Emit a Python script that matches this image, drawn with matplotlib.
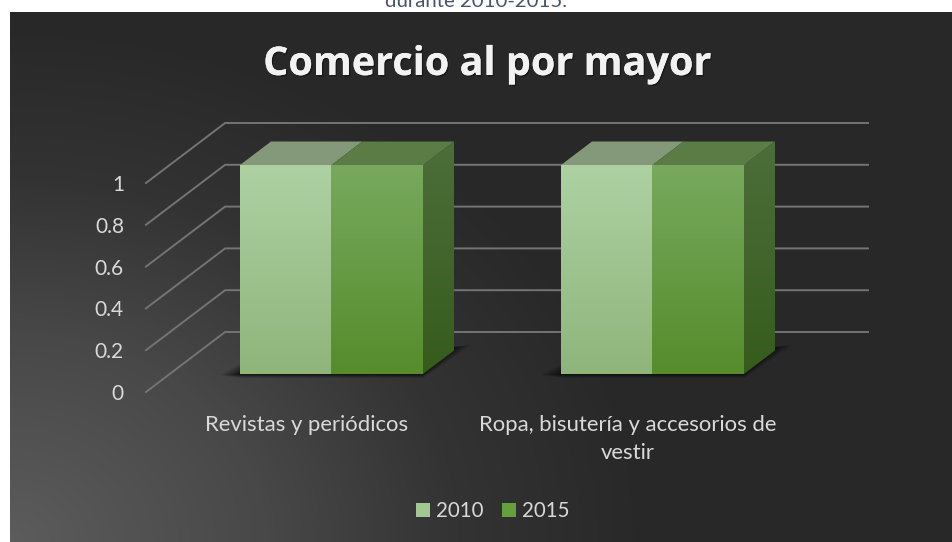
#!/usr/bin/env python
import numpy as np
from matplotlib import pyplot as plt
from matplotlib.colors import LinearSegmentedColormap
from matplotlib.patches import Patch, Polygon
from matplotlib import patheffects

title = 'Comercio al por mayor'
cut_title = 'durante 2010-2015.'
categories = ['Revistas y periódicos', 'Ropa, bisutería y accesorios de\nvestir']
series = ['2010', '2015']
values_2010 = [1, 1]
values_2015 = [1, 1]
ticks = [0, 0.2, 0.4, 0.6, 0.8, 1]
tick_labels = ['0', '0.2', '0.4', '0.6', '0.8', '1']

W, H = 953, 542
PX_X, PX_Y = 321.0, 209.0       # pixels per category / per unit of value
X0, Y0 = 331.5, 374.0           # pixel of category 0, value 0 on the bar front
BAR_W = 91.5 / PX_X
DX, DY = 31.0 / PX_X, 23.5 / PX_Y   # one bar depth
WALL_FRONT, WALL_BACK = -18 / 23.5, 42 / 23.5
WALL_X = -161.8 / PX_X

plt.rcParams['font.family'] = ['Lato', 'DejaVu Sans']
fig = plt.figure(figsize=(W / 100, H / 100), dpi=100, facecolor='white')

# panel background, in pixels
bg = fig.add_axes([0, 0, 1, 1])
bg.axis('off')
xx, yy = np.meshgrid(np.arange(10, W), np.arange(12, H))
r = np.clip(np.hypot((xx - 10) / 640.0, (yy - 542) / 520.0), 0, 1)
bg_cmap = LinearSegmentedColormap.from_list(
    'bg', [(0, '#5c5c5c'), (0.4, '#484848'), (0.7, '#333333'), (1, '#282828')])
bg.imshow(r, extent=(10, W, H, 12), cmap=bg_cmap, vmin=0, vmax=1, aspect='auto')
bg.set_xlim(0, W)
bg.set_ylim(H, 0)

ax = fig.add_axes([0, 0, 1, 1])
ax.patch.set_alpha(0)
ax.axis('off')
xlim = (-X0 / PX_X, (W - X0) / PX_X)
ylim = ((Y0 - H) / PX_Y, Y0 / PX_Y)


def project(c, d, v):
    return c + d * DX, v + d * DY


def grad_poly(points, top, bottom, z):
    points = np.array(points)
    cmap = LinearSegmentedColormap.from_list('g', [top, bottom])
    ext = (points[:, 0].min(), points[:, 0].max(), points[:, 1].min(), points[:, 1].max())
    im = ax.imshow(np.linspace(1, 0, 128)[:, None], extent=ext, origin='lower', cmap=cmap,
                   vmin=0, vmax=1, aspect='auto', zorder=z, interpolation='bilinear')
    clip = Polygon(points, closed=True, transform=ax.transData, fc='none', ec='none')
    ax.add_patch(clip)
    im.set_clip_path(clip)


# walls and gridlines
for v in ticks:
    x1, y1 = project(WALL_X, WALL_FRONT, v)
    x2, y2 = project(WALL_X, WALL_BACK, v)
    x3 = (868 - X0) / PX_X
    ax.plot([x1, x2, x3], [y1, y2, y2], color='#747474', lw=1.4, zorder=1, solid_joinstyle='miter')

colors = {
    '2010': dict(front=('#aed1a2', '#8fb57b'), top='#83997a'),
    '2015': dict(front=('#78a95e', '#568c2c'), top='#5b7c44', side=('#4c6e3a', '#365c1c')),
}

for i in range(len(categories)):
    left = i - BAR_W
    right = i + BAR_W
    # soft shadow on the floor, several layers
    for g, a in zip([1.0, 0.8, 0.6, 0.4, 0.2], [0.12, 0.18, 0.22, 0.3, 0.4]):
        shadow = [(left, 10 * g / PX_Y), (left - 20 * g / PX_X, -1 / PX_Y), (left, -4 * g / PX_Y),
                  (right, -4 * g / PX_Y), (right + (31 + 18 * g) / PX_X, (27 + 2 * g) / PX_Y),
                  (right + 31 / PX_X, 27 / PX_Y), (right, 10 / PX_Y)]
        ax.add_patch(Polygon(shadow, fc='#0a0a0a', ec='none', alpha=a, zorder=2))

    for j, (name, vals) in enumerate(zip(series, [values_2010, values_2015])):
        a = left + j * BAR_W
        b = a + BAR_W
        v = vals[i]
        c = colors[name]
        grad_poly([(a, 0), (b, 0), (b, v), (a, v)], c['front'][0], c['front'][1], 4)
        ax.add_patch(Polygon([project(a, 0, v), project(b, 0, v), project(b, 1, v), project(a, 1, v)],
                             fc=c['top'], ec='none', zorder=4))
        if 'side' in c:
            grad_poly([project(b, 0, 0), project(b, 1, 0), project(b, 1, v), project(b, 0, v)],
                      c['side'][0], c['side'][1], 3.5)

ax.set_xlim(xlim)
ax.set_ylim(ylim)

for v, lab in zip(ticks, tick_labels):
    ax.text(-207.5 / PX_X, v - 20 / PX_Y, lab, color='#d9d9d9', fontsize=15, ha='right', va='center')

for i, lab in enumerate(categories):
    ax.text(i - 24.5 / PX_X, -41 / PX_Y, lab, color='#d9d9d9', fontsize=15.9,
            ha='center', va='top', linespacing=1.5)

bg.text(487.5, 75, title, color='#f2f2f2', fontsize=28.5, fontweight='bold',
        family=['Open Sans', 'DejaVu Sans'], ha='center', va='baseline',
        path_effects=[patheffects.withSimplePatchShadow(offset=(1, -1), shadow_rgbFace='black', alpha=0.4),
                      patheffects.Normal()])
bg.text(476, 7, cut_title, color='#44546a', fontsize=14.7, ha='center', va='baseline')

handles = [Patch(fc='#a3c791', ec='none'), Patch(fc='#65a03c', ec='none')]
ax.legend(handles, series, loc='center', bbox_to_anchor=(492.5 / W, 1 - 511 / H), ncol=2, frameon=False,
          labelcolor='#d9d9d9', fontsize=14.8, handlelength=0.68, handleheight=0.68,
          handletextpad=0.3, columnspacing=0.88)

fig.savefig('out.png', dpi=100)
